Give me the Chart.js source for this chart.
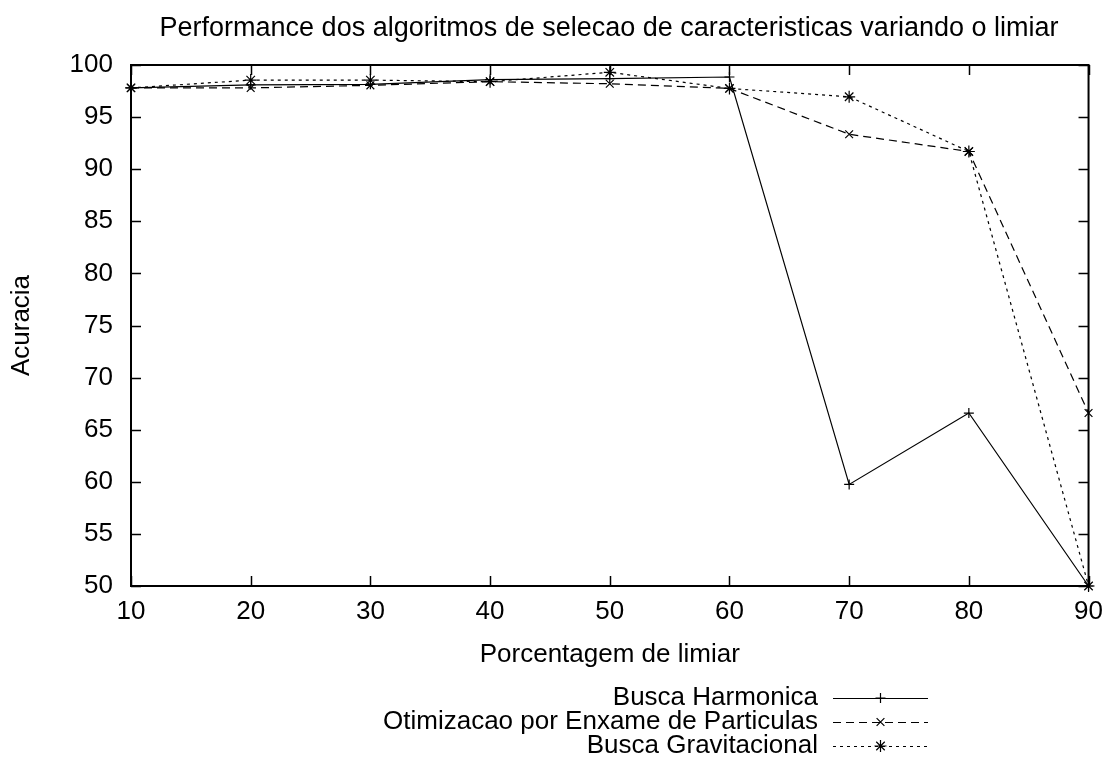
<!DOCTYPE html>
<html>
<head>
<meta charset="utf-8">
<title>Performance dos algoritmos de selecao de caracteristicas</title>
<script src="https://cdn.jsdelivr.net/npm/chart.js@4/dist/chart.umd.min.js"></script>
<style>
  html, body { margin: 0; padding: 0; background: #ffffff; }
  #wrap { width: 1113px; height: 766px; position: relative; }
</style>
</head>
<body>
<div id="wrap"><canvas id="chart" width="1113" height="766"></canvas></div>
<script>
// Threshold percentages (x axis)
const thresholds = [10, 20, 30, 40, 50, 60, 70, 80, 90];

// Accuracy of each feature-selection algorithm per threshold
const buscaHarmonica = [97.8, 98.1, 98.15, 98.6, 98.7, 98.85, 59.75, 66.6, 50.0];
const enxameParticulas = [97.8, 97.8, 98.05, 98.4, 98.2, 97.75, 93.35, 91.7, 66.6];
const buscaGravitacional = [97.8, 98.55, 98.55, 98.4, 99.3, 97.75, 96.95, 91.7, 50.0];

const seriesNames = [
  'Busca Harmonica',
  'Otimizacao por Enxame de Particulas',
  'Busca Gravitacional'
];

// Axis ticks
const yTicks = [50, 55, 60, 65, 70, 75, 80, 85, 90, 95, 100];
const xTicks = [10, 20, 30, 40, 50, 60, 70, 80, 90];

const chartTitle = 'Performance dos algoritmos de selecao de caracteristicas variando o limiar';
const xTitle = 'Porcentagem de limiar';
const yTitle = 'Acuracia';

const FONT = '"Liberation Sans", Arial, Helvetica, sans-serif';
const FONT_SIZE = 26;

function toPoints(values) {
  return thresholds.map((x, i) => ({ x: x, y: values[i] }));
}

const datasets = [
  { label: seriesNames[0], data: toPoints(buscaHarmonica), borderDash: [], pointStyle: 'cross', pointRadius: 5 },
  { label: seriesNames[1], data: toPoints(enxameParticulas), borderDash: [8, 5], pointStyle: 'crossRot', pointRadius: 5.5 },
  { label: seriesNames[2], data: toPoints(buscaGravitacional), borderDash: [3, 4], pointStyle: 'star', pointRadius: 6 }
].map(d => Object.assign({
  borderColor: '#000000',
  backgroundColor: '#000000',
  borderWidth: 1.2,
  pointBorderColor: '#000000',
  pointBorderWidth: 1.2,
  pointHoverRadius: 5,
  tension: 0,
  fill: false,
  clip: false
}, d));

// Frame, inward tick marks, axis titles, chart title and key
const framePlugin = {
  id: 'gnuFrame',
  beforeDatasetsDraw(chart) {
    const ctx = chart.ctx;
    const a = chart.chartArea;
    const xs = chart.scales.x;
    const ys = chart.scales.y;
    const tl = 10;
    ctx.save();
    ctx.strokeStyle = '#000000';
    ctx.lineWidth = 1.5;
    ctx.beginPath();
    yTicks.forEach(v => {
      const py = Math.round(ys.getPixelForValue(v)) + 0.5;
      ctx.moveTo(a.left, py); ctx.lineTo(a.left + tl, py);
      ctx.moveTo(a.right, py); ctx.lineTo(a.right - tl, py);
    });
    xTicks.forEach(v => {
      const px = Math.round(xs.getPixelForValue(v)) + 0.5;
      ctx.moveTo(px, a.bottom); ctx.lineTo(px, a.bottom - tl);
      ctx.moveTo(px, a.top); ctx.lineTo(px, a.top + tl);
    });
    ctx.stroke();
    ctx.lineWidth = 2;
    ctx.strokeRect(a.left, a.top, a.right - a.left, a.bottom - a.top);
    ctx.restore();
  },
  afterDraw(chart) {
    const ctx = chart.ctx;
    const a = chart.chartArea;
    ctx.save();
    ctx.fillStyle = '#000000';

    // chart title
    ctx.font = '27px ' + FONT;
    ctx.textAlign = 'center';
    ctx.textBaseline = 'alphabetic';
    ctx.fillText(chartTitle, 609, 36);

    ctx.font = FONT_SIZE + 'px ' + FONT;

    // x axis title
    ctx.textBaseline = 'middle';
    ctx.fillText(xTitle, (a.left + a.right) / 2, 655);

    // y axis title
    ctx.save();
    ctx.translate(22, (a.top + a.bottom) / 2);
    ctx.rotate(-Math.PI / 2);
    ctx.fillText(yTitle, 0, 0);
    ctx.restore();

    // key, bottom right
    const textRight = 818;
    const lineStart = 833;
    const lineEnd = 928;
    const rowY = [698, 722, 746];
    chart.data.datasets.forEach((ds, i) => {
      const y = rowY[i];
      ctx.textAlign = 'right';
      ctx.textBaseline = 'middle';
      ctx.fillStyle = '#000000';
      ctx.fillText(ds.label, textRight, y);
      ctx.save();
      ctx.strokeStyle = ds.borderColor;
      ctx.lineWidth = ds.borderWidth;
      ctx.setLineDash(ds.borderDash || []);
      ctx.beginPath();
      ctx.moveTo(lineStart, y + 0.5);
      ctx.lineTo(lineEnd, y + 0.5);
      ctx.stroke();
      ctx.restore();
      const mid = (lineStart + lineEnd) / 2;
      ctx.save();
      ctx.strokeStyle = '#000000';
      ctx.fillStyle = '#000000';
      ctx.lineWidth = ds.pointBorderWidth;
      if (Chart.helpers && Chart.helpers.drawPoint) {
        Chart.helpers.drawPoint(ctx, { pointStyle: ds.pointStyle, radius: ds.pointRadius, rotation: 0, borderWidth: ds.pointBorderWidth }, mid, y);
      }
      ctx.restore();
    });
    ctx.restore();
  }
};

new Chart(document.getElementById('chart'), {
  type: 'line',
  data: { datasets: datasets },
  options: {
    responsive: false,
    animation: false,
    devicePixelRatio: 1,
    layout: { padding: { left: 0, right: 23, top: 65, bottom: 0 } },
    plugins: {
      legend: { display: false },
      title: { display: false },
      tooltip: { enabled: false }
    },
    scales: {
      x: {
        type: 'linear',
        min: 10,
        max: 90,
        afterBuildTicks(scale) { scale.ticks = xTicks.map(v => ({ value: v })); },
        afterFit(scale) { scale.height = 180; },
        grid: { display: false, drawTicks: false },
        border: { display: false },
        ticks: {
          color: '#000000',
          padding: 10,
          maxRotation: 0,
          font: { family: FONT, size: FONT_SIZE }
        }
      },
      y: {
        type: 'linear',
        min: 50,
        max: 100,
        afterBuildTicks(scale) { scale.ticks = yTicks.map(v => ({ value: v })); },
        afterFit(scale) { scale.width = 131; },
        grid: { display: false, drawTicks: false },
        border: { display: false },
        ticks: {
          color: '#000000',
          padding: 18,
          font: { family: FONT, size: FONT_SIZE }
        }
      }
    }
  },
  plugins: [framePlugin]
});
</script>
</body>
</html>
